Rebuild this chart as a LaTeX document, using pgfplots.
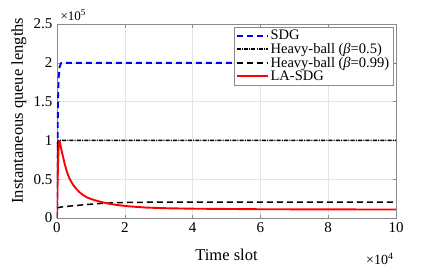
\documentclass[border=0pt]{standalone}
\usepackage{fontspec}
\setmainfont{Liberation Serif}
\usepackage{pgfplots}
\pgfplotsset{compat=1.18}
\begin{document}
\begin{tikzpicture}
\useasboundingbox (-57pt,-50pt) rectangle (380pt,218pt);
\begin{axis}[
  at={(0pt,0pt)}, anchor=south west,
  scale only axis, width=339pt, height=194pt,
  xmin=0, xmax=100000, ymin=0, ymax=250000,
  xtick={0,20000,40000,60000,80000,100000},
  xticklabels={0,2,4,6,8,10},
  ytick={0,50000,100000,150000,200000,250000},
  yticklabels={0,0.5,1,1.5,2,2.5},
  scaled ticks=false,
  tick align=inside,
  major tick length=3.5pt,
  axis line style={draw=black!45},
  every tick/.style={draw=black!45},
  grid=major,
  major grid style={draw=black!10, line width=0.4pt},
  tick label style={font=\fontsize{15}{16}\selectfont},
  xticklabel style={yshift=-1pt},
  yticklabel style={xshift=-1pt},
  ylabel={Instantaneous queue lengths},
  xlabel={Time slot},
  label style={font=\fontsize{16.5}{18}\selectfont},
  ylabel style={at={(rel axis cs:0,0.553)}, anchor=center, yshift=38pt},
  xlabel style={at={(rel axis cs:0.5,0)}, anchor=center, yshift=-37pt},
  legend style={at={(rel axis cs:0.992,0.985)}, anchor=north east,
    draw=black!45, font=\fontsize{14.5}{15}\selectfont,
    inner xsep=2pt, inner ysep=1pt, row sep=-2pt},
  legend cell align=left,
  legend image code/.code={\draw[#1] (0pt,0pt) -- (31pt,0pt);},
]
\addplot[blue, line width=1.9pt, dash pattern=on 6pt off 4pt] coordinates {
(0,0) (150,90000) (300,150000) (500,182000) (800,195000) (1200,199500) (2000,200000) (100000,200000)};
\addlegendentry{SDG}
\addplot[black, line width=1.4pt, dash pattern=on 4pt off 1.2pt on 1pt off 1.2pt] coordinates {
(0,0) (80,80000) (200,97000) (400,100000) (100000,100000)};
\addlegendentry{Heavy-ball (\textit{β}=0.5)}
\addplot[black, line width=1.5pt, dash pattern=on 6pt off 4pt] coordinates {
(0,0) (100,13000) (1000,14000) (3000,15000) (7800,17000) (12000,18500) (17600,19800) (26400,20300) (100000,20300)};
\addlegendentry{Heavy-ball (\textit{β}=0.99)}
\addplot[red, line width=1.9pt, line join=round] coordinates {
(0,0) (150,40000) (300,70000) (450,88000) (600,97000) (720,99000) (850,97500) (1000,94500) (1400,86000) (1860,77600) (2300,69000) (2800,61500) (3300,55000) (3830,49500) (4700,43000) (5800,37000) (6700,33000) (7770,29300) (9000,26200) (10700,23500) (12000,21800) (13700,20000) (15500,18300) (17600,16800) (21000,15100) (26400,13400) (33000,12500) (40000,12000) (60000,11300) (100000,10900)};
\addlegendentry{LA-SDG}
\end{axis}
\node[anchor=west, font=\fontsize{13}{14}\selectfont] at (0pt,203pt) {×10\textsuperscript{5}};
\node[anchor=east, font=\fontsize{14}{15}\selectfont] at (340pt,-41pt) {×10\textsuperscript{4}};
\end{tikzpicture}
\end{document}
